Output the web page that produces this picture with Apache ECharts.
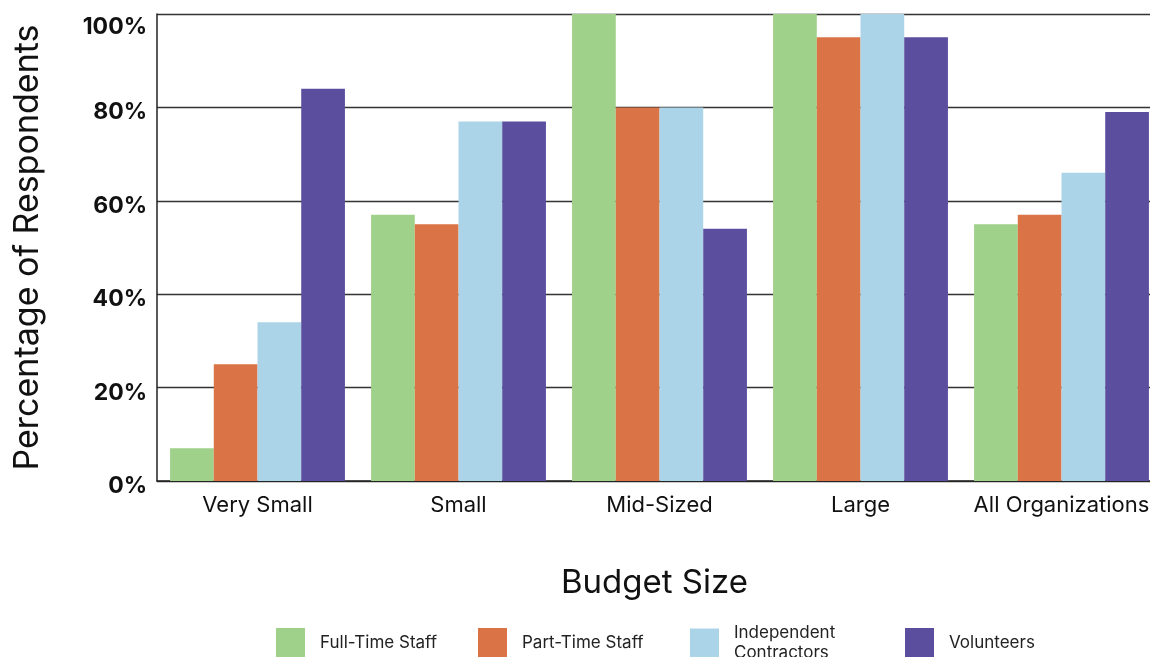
<!DOCTYPE html>
<html>
<head>
<meta charset="utf-8">
<script src="https://cdn.jsdelivr.net/npm/echarts@6/dist/echarts.min.js"></script>
<style>
  html, body { margin: 0; padding: 0; background: #ffffff; overflow: hidden; }
  #chart { width: 1166px; height: 657px; }
</style>
</head>
<body>
<div id="chart"></div>
<script>
// Budget size groups along the x axis
const categories = ['Very Small', 'Small', 'Mid-Sized', 'Large', 'All Organizations'];

// Share of respondents (%) using each type of worker
const fullTimeStaff = [7, 57, 100, 100, 55];
const partTimeStaff = [25, 55, 80, 95, 57];
const independentContractors = [34, 77, 80, 100, 66];
const volunteers = [84, 77, 54, 95, 79];

const seriesNames = ['Full-Time Staff', 'Part-Time Staff', 'Independent\nContractors', 'Volunteers'];
const seriesValues = [fullTimeStaff, partTimeStaff, independentContractors, volunteers];
const colors = ['#a0d18b', '#da7346', '#acd4e8', '#5c4e9f'];

const FONT = 'Inter, "Noto Sans", sans-serif';

const chart = echarts.init(document.getElementById('chart'), null, { renderer: 'canvas' });

// one legend block per series so each sits at its own spot;
// the two-line entry is taller than its swatch, so it starts higher
const legendLefts = [276, 478, 690, 905];
const legendTops = [628, 628, 623, 628];
const legends = seriesNames.map((name, i) => ({
  data: [name],
  left: legendLefts[i],
  top: legendTops[i],
  padding: 0,
  orient: 'horizontal',
  itemWidth: 29,
  itemHeight: 29,
  itemGap: 0,
  icon: 'rect',
  selectedMode: false,
  textStyle: { fontFamily: FONT, fontSize: 17, color: '#222', padding: [0, 0, 0, 10], lineHeight: 20 }
}));

chart.setOption({
  animation: false,
  color: colors,
  legend: legends,
  grid: { left: 157, top: 14, width: 1005, height: 467, containLabel: false },
  xAxis: {
    type: 'category',
    data: categories,
    name: 'Budget Size',
    nameLocation: 'middle',
    nameGap: 86,
    nameTextStyle: { fontFamily: FONT, fontSize: 33, color: '#111', padding: [0, 10, 0, 0] },
    axisLine: { show: true, lineStyle: { color: '#222', width: 1.5 } },
    axisTick: { show: false },
    axisLabel: { interval: 0, fontFamily: FONT, fontSize: 22, color: '#111', margin: 13 }
  },
  yAxis: {
    type: 'value',
    min: 0,
    max: 100,
    interval: 20,
    name: 'Percentage of Respondents',
    nameLocation: 'middle',
    nameGap: 112,
    nameTextStyle: { fontFamily: FONT, fontSize: 34, color: '#111' },
    axisLine: { show: true, lineStyle: { color: '#222', width: 1.5 } },
    axisTick: { show: false },
    splitLine: { show: true, lineStyle: { color: '#333', width: 1.3 } },
    axisLabel: {
      fontFamily: FONT,
      fontSize: 23,
      fontWeight: 'bold',
      color: '#111',
      margin: 10,
      padding: [10, 0, 0, 0],
      formatter: v => v === 100 ? '{top|100%}' : v + '%',
      rich: {
        top: { fontFamily: FONT, fontSize: 23, fontWeight: 'bold', color: '#111', padding: [16, 0, 0, 0] }
      }
    }
  },
  series: seriesValues.map((vals, i) => ({
    name: seriesNames[i],
    type: 'bar',
    data: vals,
    barGap: '0%',
    barCategoryGap: '13%',
    itemStyle: { color: colors[i] }
  }))
});
</script>
</body>
</html>
